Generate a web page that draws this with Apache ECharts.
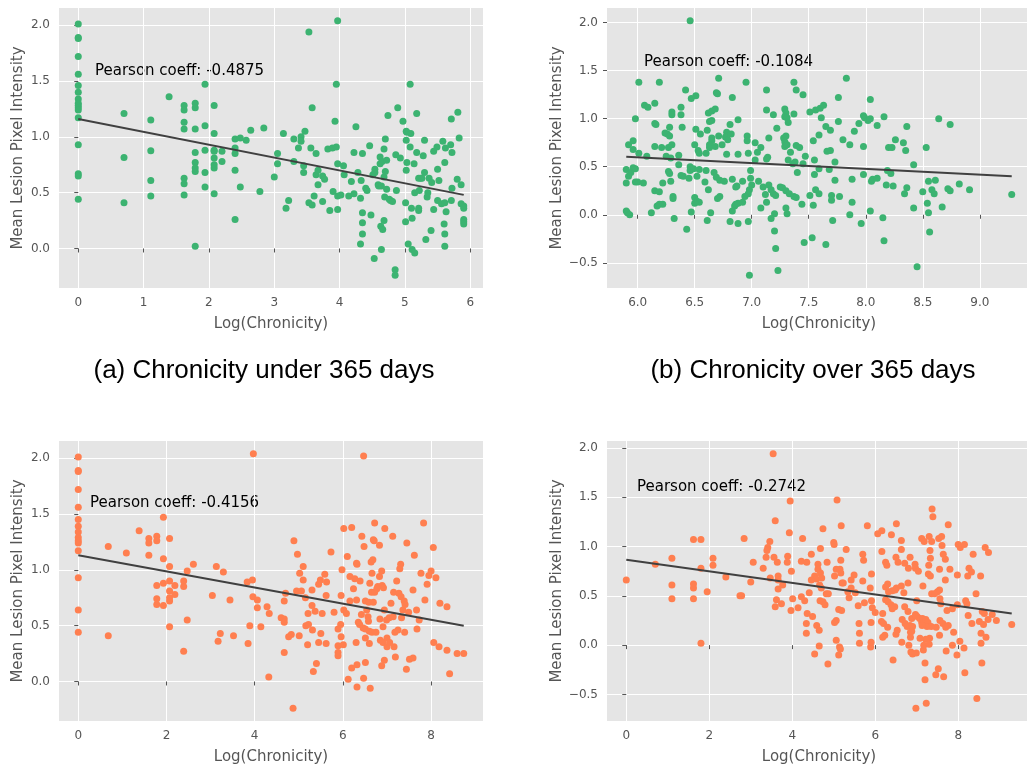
<!DOCTYPE html>
<html><head><meta charset="utf-8">
<script src="https://cdn.jsdelivr.net/npm/echarts@6.0.0/dist/echarts.min.js"></script>
<style>html,body{margin:0;padding:0;background:#fff}#c{width:1027px;height:765px}</style>
</head><body><div id="c"></div>
<script>
// ---------- data ----------
const aPoints = [
[0,2.01],[0,1.89],[0,1.88],[0,1.72],[0,1.56],[0,1.46],[0,1.40],[0,1.34],[0,1.30],[0,1.28],[0,1.26],[0,1.24],[0,1.17],[0,0.93],[0,0.67],[0,0.65],[0,0.44],
[0.70,1.21],[0.70,0.815],[0.70,0.41],
[1.11,1.15],[1.11,0.875],[1.11,0.61],[1.11,0.47],[1.39,1.36],
[1.62,1.28],[1.62,1.24],[1.62,1.13],[1.62,1.07],[1.62,0.63],[1.62,0.58],[1.62,0.48],
[1.79,1.30],[1.79,1.26],[1.79,1.07],[1.79,0.86],[1.79,0.77],[1.79,0.72],[1.79,0.69],[1.79,0.02],
[1.94,1.47],[1.94,1.10],[1.94,0.88],[1.94,0.68],[1.94,0.55],
[2.08,1.28],[2.08,1.03],[2.08,0.88],[2.08,0.87],[2.08,0.81],[2.08,0.75],[2.08,0.72],[2.08,0.49],
[2.20,0.87],[2.20,0.78],[2.40,0.98],[2.40,0.90],[2.40,0.85],[2.40,0.70],[2.40,0.26],
[2.48,0.99],[2.48,0.55],[2.57,0.97],[2.64,1.06],[2.78,0.51],[2.84,1.08],[3.0,0.64],[3.05,0.85],[3.05,0.76],
[3.14,1.03],[3.18,0.36],[3.22,0.43],[3.30,0.98],[3.30,0.78],[3.37,0.90],[3.41,1.0],[3.41,0.96],[3.45,0.74],
[3.45,0.68],[3.47,1.05],[3.53,1.94],[3.53,0.41],[3.56,0.90],[3.58,1.26],[3.58,0.39],[3.61,0.47],[3.64,0.85],
[3.64,0.66],[3.67,0.70],[3.67,0.57],[3.74,0.65],[3.74,0.42],[3.77,0.62],[3.82,0.89],[3.85,0.34],[3.89,0.90],
[3.90,0.51],[3.93,1.14],[3.95,1.47],[3.95,0.91],[3.97,2.04],[3.97,0.76],[3.97,0.47],[3.97,0.35],
[4.02,0.48],[4.06,0.74],[4.07,0.66],[4.14,0.47],[4.18,0.60],[4.22,0.86],[4.22,0.49],[4.25,1.09],[4.28,0.68],
[4.32,0.45],[4.32,0.04],[4.33,0.61],[4.35,0.85],[4.35,0.32],[4.35,0.23],[4.35,0.13],[4.40,0.54],[4.42,0.52],
[4.46,0.92],[4.48,0.30],[4.51,0.66],[4.53,-0.09],[4.54,0.71],[4.54,0.68],[4.59,0.57],[4.60,0.56],[4.62,0.82],
[4.62,0.76],[4.63,0.20],[4.64,-0.01],[4.64,0.56],[4.65,0.78],[4.66,0.17],[4.68,0.89],[4.68,0.64],[4.68,0.25],
[4.70,0.98],[4.70,0.69],[4.69,0.46],[4.72,0.79],[4.72,0.53],[4.74,1.19],[4.76,0.44],[4.78,0.43],[4.81,0.42],
[4.85,-0.19],[4.85,-0.24],[4.87,0.52],[4.86,0.84],[4.89,1.26],[4.93,0.81],[4.97,1.14],[5.01,0.41],[5.01,0.24],
[5.02,1.05],[5.02,0.97],[5.02,0.70],[5.03,1.04],[5.03,0.77],[5.05,0.04],[5.08,1.47],[5.08,0.91],[5.09,1.03],
[5.10,0.36],[5.11,-0.01],[5.11,0.27],[5.14,0.76],[5.15,-0.04],[5.15,0.50],[5.18,0.86],[5.18,1.21],[5.21,0.36],
[5.21,0.34],[5.21,0.63],[5.22,0.52],[5.24,0.63],[5.26,0.63],[5.28,0.83],[5.30,0.97],[5.30,0.68],[5.32,0.08],
[5.34,0.46],[5.35,0.50],[5.37,0.63],[5.40,0.16],[5.41,0.59],[5.44,0.35],[5.44,0.87],[5.49,0.91],[5.50,0.71],
[5.50,0.43],[5.52,0.61],[5.56,0.40],[5.58,0.96],[5.60,0.22],[5.61,0.77],[5.61,0.41],[5.61,0.13],[5.61,0.02],
[5.62,0.90],[5.63,0.33],[5.70,0.93],[5.71,1.16],[5.71,0.43],[5.72,0.86],[5.72,0.54],[5.80,0.62],[5.81,1.22],
[5.83,0.99],[5.86,0.57],[5.86,0.40],[5.90,0.38],[5.90,0.36],[5.90,0.26],[5.90,0.24],[5.90,0.22]
];
const bPoints = [
[6.46,2.02],[6.01,1.38],[6.19,1.38],[6.71,1.42],[6.06,1.14],[6.09,1.12],[6.15,1.16],[6.38,1.12],[6.42,1.30],
[6.47,1.21],[6.51,1.24],[6.69,1.27],[6.70,1.26],[6.83,1.22],[5.98,1.0],[6.30,1.07],[6.30,1.04],[6.38,1.04],
[6.62,1.06],[6.65,1.08],[6.68,1.10],[6.63,0.97],[6.65,0.98],[6.15,0.95],[6.16,0.94],[6.28,0.91],[6.39,0.91],
[6.51,0.89],[6.61,0.88],[6.81,0.94],[6.88,0.99],[6.24,0.85],[6.26,0.84],[6.28,0.82],[6.55,0.84],[6.65,0.80],
[6.65,0.77],[6.71,0.82],[6.78,0.86],[6.77,0.81],[6.79,0.78],[6.82,0.84],[5.92,0.73],[5.96,0.77],[5.96,0.68],
[6.01,0.64],[6.08,0.61],[6.15,0.71],[6.21,0.70],[6.27,0.70],[6.30,0.73],[6.25,0.61],[6.29,0.59],[6.36,0.62],
[6.50,0.73],[6.53,0.67],[6.54,0.64],[6.60,0.64],[6.63,0.70],[6.63,0.73],[6.68,0.71],[6.74,0.73],[6.78,0.63],
[6.88,0.63],[5.90,0.47],[5.92,0.40],[5.94,0.44],[5.96,0.49],[5.98,0.48],[5.90,0.33],[5.98,0.34],[6.0,0.34],
[6.05,0.33],[6.27,0.45],[6.28,0.43],[6.29,0.35],[6.22,0.33],[6.15,0.25],[6.19,0.24],[6.36,0.52],[6.38,0.41],
[6.40,0.40],[6.46,0.50],[6.46,0.46],[6.45,0.38],[6.49,0.48],[6.52,0.40],[6.54,0.47],[6.59,0.34],[6.60,0.46],
[6.62,0.26],[6.67,0.44],[6.69,0.39],[6.72,0.36],[6.76,0.35],[6.70,0.17],[6.72,0.19],[6.83,0.37],[6.86,0.29],
[6.87,0.30],[6.31,0.19],[6.31,0.17],[5.90,0.04],[5.91,0.02],[5.93,0.0],[6.12,0.02],[6.17,0.09],[6.19,0.11],
[6.22,0.11],[6.50,0.18],[6.52,0.14],[6.54,0.13],[6.50,0.12],[6.47,0.03],[6.64,0.02],[6.61,-0.06],[6.32,-0.04],
[6.43,-0.15],[6.81,-0.07],[6.85,0.09],[6.83,0.04],[6.86,0.11],[6.88,0.12],[6.88,-0.09],
[6.95,1.38],[7.13,1.30],[7.37,1.38],[7.39,1.30],[7.45,1.25],[7.83,1.42],[7.76,1.22],[7.13,1.09],[7.19,1.04],
[7.29,1.10],[7.30,1.06],[7.29,1.02],[7.31,1.01],[7.37,1.05],[7.51,1.07],[7.56,1.09],[7.60,1.11],[7.63,1.14],
[7.61,1.01],[7.32,0.96],[7.22,0.90],[7.65,0.92],[7.69,0.88],[7.76,0.97],[6.96,0.82],[6.96,0.77],[7.15,0.80],
[7.28,0.80],[7.29,0.76],[7.29,0.71],[7.31,0.73],[7.30,0.82],[7.39,0.72],[7.42,0.70],[7.54,0.77],[7.59,0.83],
[7.80,0.78],[7.86,0.73],[7.90,0.87],[7.94,0.95],[7.98,1.03],[7.98,0.71],[7.03,0.75],[7.08,0.70],[7.05,0.65],
[6.97,0.64],[7.14,0.60],[7.13,0.58],[7.32,0.57],[7.34,0.65],[7.36,0.53],[7.38,0.55],[7.40,0.44],[7.45,0.53],
[7.47,0.61],[7.55,0.57],[7.59,0.48],[7.55,0.42],[7.66,0.66],[7.69,0.67],[7.73,0.55],[7.68,0.47],[7.73,0.36],
[7.70,0.20],[7.70,0.15],[7.77,0.19],[7.88,0.37],[7.98,0.42],[6.99,0.46],[7.03,0.57],[6.99,0.38],[7.00,0.31],
[6.92,0.35],[6.98,0.26],[6.97,0.22],[6.94,0.19],[6.92,0.13],[7.06,0.35],[7.10,0.29],[7.12,0.21],[7.13,0.13],
[7.08,0.07],[7.15,0.31],[7.17,0.26],[7.19,0.22],[7.21,0.20],[7.25,0.29],[7.27,0.28],[7.30,0.25],[7.33,0.22],
[7.37,0.19],[7.39,0.18],[7.44,0.11],[7.30,0.07],[7.31,0.01],[7.20,0.01],[7.17,-0.04],[7.20,-0.17],[7.21,-0.35],
[7.23,-0.58],[6.98,-0.63],[6.97,-0.07],[7.51,0.20],[7.54,0.10],[7.56,0.26],[7.59,0.22],[7.46,-0.29],[7.53,-0.24],
[7.65,-0.31],[7.71,-0.06],[7.86,0.0],[7.88,0.13],[7.96,-0.09],[8.04,0.04],[8.05,0.35],[7.99,1.01],[8.02,0.98],
[8.04,1.00],[8.04,1.20],[8.06,0.37],
[8.10,0.93],[8.16,1.02],[8.36,0.92],[8.64,1.0],[8.74,0.94],[8.26,0.78],[8.33,0.75],[8.20,0.70],[8.23,0.70],
[8.35,0.67],[8.53,0.70],[8.42,0.52],[8.19,0.46],[8.22,0.43],[8.10,0.38],[8.18,0.31],[8.24,0.30],[8.36,0.28],
[8.34,0.22],[8.42,0.07],[8.50,0.24],[8.55,0.35],[8.61,0.36],[8.58,0.26],[8.60,0.22],[8.54,0.12],[8.55,0.02],
[8.67,0.08],[8.56,-0.18],[8.72,0.27],[8.74,0.25],[8.82,0.32],[8.91,0.26],[9.28,0.21],[8.15,-0.03],[8.16,-0.27],
[8.45,-0.54]
];
const cPoints = [
[0,2.01],[0,1.89],[0,1.88],[0,1.72],[0,1.56],[0,1.45],[0,1.39],[0,1.34],[0,1.29],[0,1.26],[0,1.24],[0,1.17],[0,0.93],[0,0.64],[0,0.44],
[0.68,1.21],[0.68,0.41],[1.09,1.15],[1.38,1.35],[1.60,1.28],[1.60,1.24],[1.60,1.13],[1.78,1.30],[1.78,1.26],
[1.78,0.86],[1.78,0.74],[1.78,0.69],[1.93,1.47],[1.93,1.10],[1.93,0.88],[1.93,0.68],[2.07,1.28],[2.07,1.03],
[2.07,0.90],[2.07,0.81],[2.07,0.75],[2.07,0.72],[2.07,0.49],[2.19,0.86],[2.19,0.78],[2.39,0.90],[2.39,0.85],
[2.39,0.27],[2.47,0.99],[2.47,0.55],[2.61,1.05],
[3.04,0.77],[3.13,1.03],[3.29,0.98],[3.44,0.73],[3.22,0.43],[3.17,0.36],[3.52,0.41],[3.83,0.89],[3.95,0.91],
[3.97,2.04],[3.96,0.76],[4.06,0.73],[4.06,0.66],[3.89,0.50],[3.85,0.34],[4.14,0.49],[4.28,0.67],[4.33,0.61],
[4.32,0.04],[4.60,0.57],[4.67,0.56],[4.67,0.53],[4.67,0.72],[4.70,0.79],[4.67,0.26],[4.77,0.40],[4.83,0.42],
[4.89,1.26],[4.97,1.14],[4.87,-0.24],[4.95,0.81],[5.02,0.97],[5.10,1.03],[5.10,0.91],[5.06,0.81],[5.15,0.75],
[5.01,0.41],[5.21,0.61],[5.16,0.50],[5.22,0.51],[5.20,0.33],[5.30,0.82],[5.30,0.68],[5.37,0.63],[5.31,0.46],
[5.33,0.09],[5.40,0.16],[5.45,0.87],[5.49,0.91],[5.59,0.96],[5.63,0.89],[5.62,0.77],[5.53,0.61],[5.50,0.43],
[5.45,0.35],[5.62,0.34],[5.73,1.16],[5.80,0.62],[5.89,0.47],[5.89,0.32],[5.89,0.26],[5.89,0.23],
[6.47,2.02],[6.02,1.37],[6.20,1.38],[6.72,1.42],[6.95,1.37],[7.83,1.42],[6.43,1.30],[6.48,1.21],[6.69,1.27],
[6.71,1.26],[6.83,1.22],[7.13,1.30],[7.45,1.24],[8.05,1.20],[6.10,1.12],[6.31,1.06],[6.32,1.05],[6.64,1.07],
[6.68,1.09],[7.62,1.13],[5.98,1.00],[6.16,0.94],[6.27,0.92],[6.39,0.90],[6.66,0.97],[6.61,0.88],[6.83,0.94],
[6.88,0.99],[6.79,0.85],[6.89,0.86],[6.92,0.84],[7.22,0.90],[7.29,1.01],[7.31,1.05],[7.77,0.97],[7.95,0.95],
[8.0,0.99],[8.11,0.93],[7.91,0.87],[7.59,0.82],[5.96,0.77],[6.24,0.83],[6.65,0.80],[6.72,0.80],[6.77,0.83],
[7.15,0.80],[7.27,0.79],[7.32,0.76],[7.39,0.72],[7.41,0.69],[7.86,0.73],[8.20,0.70],[8.36,0.67],[6.16,0.72],
[6.31,0.73],[6.51,0.72],[6.59,0.71],[6.69,0.71],[6.54,0.64],[6.02,0.64],[6.08,0.61],[6.42,0.60],[6.57,0.58],
[6.58,0.54],[6.84,0.56],[6.99,0.55],[7.05,0.57],[6.94,0.64],[7.09,0.70],[7.14,0.58],[7.33,0.57],[7.36,0.64],
[7.49,0.62],[7.67,0.64],[7.73,0.55],[7.68,0.47],[6.35,0.53],[6.38,0.51],[6.46,0.48],[6.51,0.47],[6.60,0.45],
[6.66,0.44],[6.75,0.44],[6.91,0.49],[7.18,0.44],[7.25,0.46],[7.40,0.44],[5.95,0.51],[5.96,0.40],[6.01,0.33],
[6.51,0.39],[6.30,0.35],[6.60,0.34],[6.85,0.37],[6.91,0.35],[7.00,0.39],[7.00,0.31],[7.06,0.35],[7.16,0.31],
[6.94,0.19],[6.88,0.14],[7.19,0.22],[7.51,0.20],[7.59,0.21],[7.44,0.11],[8.06,0.35],[8.18,0.31],[8.36,0.28],
[8.59,0.25],[8.74,0.25],[8.42,0.07],[6.51,0.17],[6.32,0.15],[6.20,0.12],[6.12,0.02],[6.32,-0.05],[6.47,0.03],
[6.62,-0.06]
];
const dPoints = [
[0,0.66],[0.70,0.82],[1.10,0.88],[1.10,0.61],[1.10,0.47],[1.62,1.07],[1.80,1.07],[1.62,0.62],[1.62,0.58],
[1.62,0.47],[1.80,0.78],[1.80,0.02],[1.95,0.54],[2.09,0.88],[2.09,0.81],[2.40,0.69],[2.74,0.50],
[3.54,1.94],[3.95,1.46],[5.08,1.47],[3.59,1.26],[3.93,1.14],[4.74,1.18],[4.25,1.08],[5.18,1.21],[5.81,1.21],
[2.84,1.08],[3.46,1.05],[3.41,0.99],[3.39,0.96],[3.37,0.89],[3.56,0.89],[3.64,0.84],[3.89,0.90],[3.88,0.84],
[3.06,0.84],[3.30,0.78],[3.47,0.68],[3.0,0.64],[3.66,0.70],[3.66,0.66],[3.77,0.61],[3.66,0.57],[3.98,0.75],
[2.78,0.50],[3.62,0.46],[3.74,0.42],[3.59,0.39],[4.01,0.47],[3.97,0.35],[4.14,0.38],[4.22,0.85],[4.35,0.84],
[4.46,0.92],[4.68,0.98],[4.62,0.82],[4.62,0.77],[4.68,0.73],[4.54,0.70],[4.58,0.67],[4.71,0.68],[4.66,0.61],
[4.70,0.58],[4.84,0.84],[5.0,1.04],[5.01,1.02],[5.30,0.97],[5.17,0.86],[5.06,0.77],[5.15,0.77],[5.02,0.70],
[5.20,0.63],[5.23,0.63],[5.49,0.71],[5.42,0.66],[5.70,0.92],[5.72,0.86],[5.70,0.65],[5.37,0.48],[5.34,0.54],
[5.42,0.58],[5.52,0.53],[5.59,0.40],[5.74,0.43],[5.91,0.72],[5.88,0.58],[5.91,0.45],[5.93,0.38],[5.90,0.23],
[5.90,0.03],[5.89,-0.02],[5.61,0.22],[5.62,0.12],[5.62,0.02],[5.06,0.25],[5.02,0.23],[5.12,0.36],[5.19,0.35],
[5.06,0.05],[5.14,-0.02],[5.16,-0.04],[5.12,-0.10],[4.86,-0.19],[4.65,-0.01],[4.54,-0.09],[4.59,0.20],
[4.65,0.15],[4.67,0.45],[4.74,0.44],[4.79,0.41],[4.82,0.52],[4.36,0.32],[4.49,0.29],[4.34,0.22],[4.34,0.12],
[4.30,0.45],[4.41,0.53],[4.22,0.49],[4.46,0.66],[4.87,0.52],[5.17,0.73],
[7.37,1.38],[7.39,1.30],[7.76,1.22],[6.51,1.23],[6.06,1.13],[6.16,1.16],[6.39,1.12],[6.63,1.06],[7.12,1.08],
[7.18,1.05],[7.30,1.10],[7.36,1.05],[7.53,1.08],[7.60,1.10],[7.61,1.01],[8.0,1.02],[8.05,0.99],[8.15,1.02],
[8.65,0.99],[8.73,0.94],[6.16,0.95],[6.63,0.97],[6.50,0.89],[6.84,0.89],[7.32,0.96],[7.33,0.88],[7.64,0.92],
[7.69,0.87],[8.36,0.92],[6.25,0.84],[6.28,0.81],[6.55,0.84],[6.71,0.83],[6.80,0.78],[6.96,0.82],[6.97,0.78],
[7.04,0.75],[7.29,0.81],[7.55,0.77],[7.80,0.77],[8.26,0.78],[8.32,0.74],[8.54,0.70],[7.98,0.71],[8.23,0.70],
[7.28,0.72],[7.33,0.70],[7.69,0.66],[7.15,0.60],[6.30,0.62],[6.25,0.59],[6.51,0.58],[6.63,0.60],[6.79,0.63],
[7.55,0.56],[7.50,0.54],[7.36,0.52],[7.43,0.52],[8.43,0.52],[6.32,0.54],[6.41,0.55],[6.48,0.56],[6.69,0.53],
[6.25,0.46],[6.31,0.44],[6.38,0.41],[6.47,0.39],[6.41,0.37],[6.71,0.39],[6.79,0.34],[7.0,0.45],[7.56,0.47],
[7.58,0.42],[7.73,0.35],[7.86,0.37],[7.98,0.41],[8.18,0.45],[8.21,0.42],[8.24,0.30],[8.33,0.22],[8.51,0.24],
[8.58,0.34],[8.63,0.32],[8.72,0.26],[8.61,0.21],[8.82,0.31],[8.92,0.25],[9.29,0.21],[8.55,0.12],[8.67,0.08],
[8.55,0.02],[6.0,0.33],[6.18,0.32],[6.15,0.24],[6.20,0.22],[6.30,0.18],[6.23,0.10],[6.18,0.08],[6.53,0.15],
[6.50,0.11],[6.65,0.26],[6.72,0.22],[6.77,0.19],[6.84,0.20],[6.88,0.27],[6.90,0.19],[6.88,0.14],[6.97,0.31],
[7.01,0.29],[7.07,0.27],[7.12,0.23],[7.14,0.27],[7.18,0.23],[7.22,0.26],[7.27,0.23],[7.25,0.19],[7.13,0.20],
[7.35,0.19],[7.47,0.18],[7.56,0.25],[7.63,0.22],[7.70,0.18],[7.76,0.20],[7.89,0.13],[7.55,0.10],[7.31,0.07],
[7.22,0.06],[7.08,0.07],[6.85,0.13],[6.85,0.08],[6.81,0.0],[6.64,0.03],[6.86,-0.07],[6.90,-0.09],[6.99,-0.08],
[7.16,-0.05],[7.17,0.0],[7.30,0.01],[6.43,-0.15],[7.20,-0.18],[7.71,-0.06],[7.86,0.0],[7.97,-0.10],[8.04,0.04],
[8.14,-0.03],[7.52,-0.24],[7.46,-0.30],[7.65,-0.32],[7.20,-0.35],[8.16,-0.28],[8.57,-0.18],[6.98,-0.64],
[7.23,-0.59],[8.45,-0.54]
];
// regression line end points
const aFit = [[0,1.16],[5.9,0.48]];
const bFit = [[5.9,0.605],[9.28,0.40]];
const cFit = [[0,1.13],[8.74,0.50]];
const dFit = [[0,0.866],[9.29,0.32]];
// tick values
const aXTicks = [0,1,2,3,4,5,6];
const bXTicks = [6,6.5,7,7.5,8,8.5,9];
const cXTicks = [0,2,4,6,8];
const dXTicks = [0,2,4,6,8];
const aYTicks = [0,0.5,1,1.5,2];
const bYTicks = [-0.5,0,0.5,1,1.5,2];
const cYTicks = [0,0.5,1,1.5,2];
const dYTicks = [-0.5,0,0.5,1,1.5,2];
const pearsonTexts = ['Pearson coeff: -0.4875','Pearson coeff: -0.1084','Pearson coeff: -0.4156','Pearson coeff: -0.2742'];
const captions = ['(a) Chronicity under 365 days','(b) Chronicity over 365 days'];
const xName = 'Log(Chronicity)';
const yName = 'Mean Lesion Pixel Intensity';

// ---------- layout ----------
const GREEN = '#3cb371', ORANGE = '#ff7f50';
const panels = [
  {pts:aPoints, fit:aFit, xt:aXTicks, yt:aYTicks, color:GREEN, left:59, top:8, xr:[-0.295,6.195], yr:[-0.354,2.154], xdec:0, ygap:33, text:[95,71]},
  {pts:bPoints, fit:bFit, xt:bXTicks, yt:bYTicks, color:GREEN, left:607, top:8, xr:[5.731,9.449], yr:[-0.7625,2.1525], xdec:1, ygap:42, text:[644,62]},
  {pts:cPoints, fit:cFit, xt:cXTicks, yt:cYTicks, color:ORANGE, left:59, top:441, xr:[-0.437,9.177], yr:[-0.354,2.154], xdec:0, ygap:33, text:[90,503]},
  {pts:dPoints, fit:dFit, xt:dXTicks, yt:dYTicks, color:ORANGE, left:607, top:441, xr:[-0.4645,9.7545], yr:[-0.769,2.069], xdec:0, ygap:42, text:[637,487]}
];
const W = 424, H = 280;
const fmt = (v, d) => Number(v).toFixed(d).replace('-', '\u2212');

const grid = [], xAxis = [], yAxis = [], series = [], graphic = [];
panels.forEach((p, i) => {
  grid.push({left:p.left, top:p.top, width:W, height:H, containLabel:false, outerBoundsMode:'none',
             show:true, backgroundColor:'#e5e5e5', borderWidth:0});
  xAxis.push({type:'value', gridIndex:i, min:p.xr[0], max:p.xr[1],
    name:xName, nameLocation:'middle', nameGap:29,
    nameTextStyle:{color:'#555555', fontSize:15, fontFamily:'DejaVu Sans'},
    axisLine:{show:false},
    axisTick:{show:true, inside:false, length:4, lineStyle:{color:'#555555'}, customValues:p.xt},
    axisLabel:{color:'#555555', fontSize:12, fontFamily:'DejaVu Sans', margin:9, customValues:p.xt,
               formatter:v => fmt(v, p.xdec)},
    splitLine:{show:true, lineStyle:{color:'#ffffff', width:1}}
  });
  yAxis.push({type:'value', gridIndex:i, min:p.yr[0], max:p.yr[1],
    name:yName, nameLocation:'middle', nameGap:p.ygap,
    nameTextStyle:{color:'#555555', fontSize:15, fontFamily:'DejaVu Sans'},
    axisLine:{show:false},
    axisTick:{show:true, inside:false, length:4, lineStyle:{color:'#555555'}, customValues:p.yt},
    axisLabel:{color:'#555555', fontSize:12, fontFamily:'DejaVu Sans', margin:9, customValues:p.yt,
               formatter:v => fmt(v, 1)},
    splitLine:{show:true, lineStyle:{color:'#ffffff', width:1}}
  });
  series.push({type:'scatter', xAxisIndex:i, yAxisIndex:i, data:p.pts, symbol:'circle', symbolSize:7,
    itemStyle:{color:p.color, opacity:1}, silent:true, z:2});
  series.push({type:'line', xAxisIndex:i, yAxisIndex:i, data:p.fit, showSymbol:false, symbol:'none',
    lineStyle:{color:'#404040', width:2}, silent:true, z:3});
  graphic.push({type:'text', x:p.text[0], y:p.text[1],
    style:{text:pearsonTexts[i], fill:'#000000', fontSize:15, fontFamily:'DejaVu Sans', verticalAlign:'middle'}});
});
graphic.push({type:'text', x:264, y:371, style:{text:captions[0], fill:'#000', fontSize:26,
  fontFamily:'Liberation Sans', align:'center', verticalAlign:'middle'}});
graphic.push({type:'text', x:813, y:371, style:{text:captions[1], fill:'#000', fontSize:26,
  fontFamily:'Liberation Sans', align:'center', verticalAlign:'middle'}});

const chart = echarts.init(document.getElementById('c'), null, {renderer:'canvas'});
chart.setOption({animation:false, backgroundColor:'#ffffff', grid, xAxis, yAxis, series, graphic});
</script>
</body></html>
